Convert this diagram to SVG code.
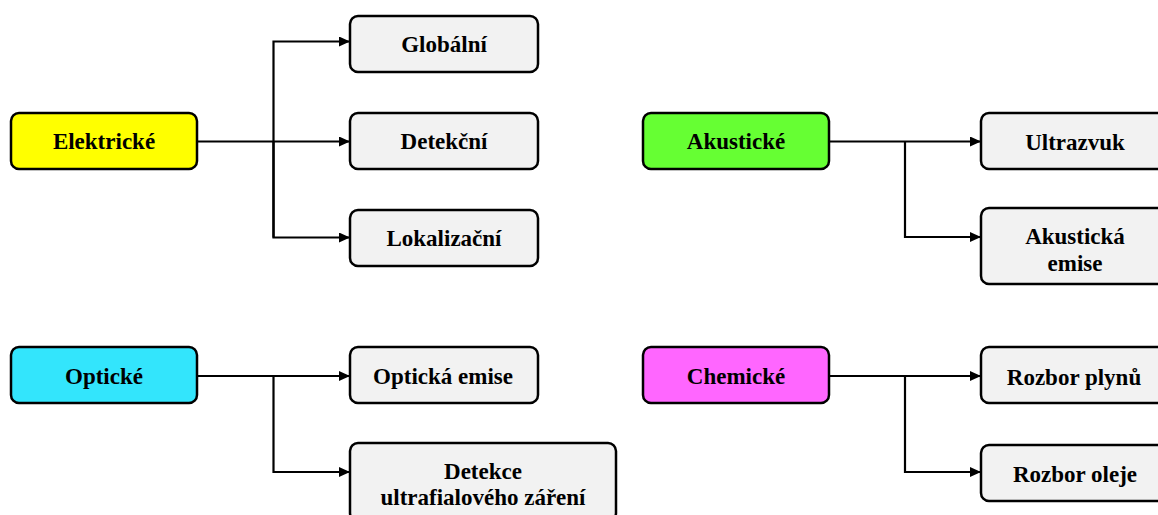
<svg xmlns="http://www.w3.org/2000/svg" width="1158" height="515" viewBox="0 0 1158 515">
  <defs>
    <marker id="arrow" viewBox="0 0 11 10" refX="11" refY="5" markerWidth="11" markerHeight="10" markerUnits="userSpaceOnUse" orient="auto">
      <path d="M0,0 L11,5 L0,10 Z" fill="#000"/>
    </marker>
    <style>
      .box { stroke: #000; stroke-width: 2.5; }
      .child { fill: #F2F2F2; }
      .lbl { font-weight: bold; font-size: 23px; fill: #000; text-anchor: middle; }
      .conn { fill: none; stroke: #000; stroke-width: 2.2; }
    </style>
  </defs>
  <rect width="1158" height="515" fill="#fff"/>

  <g id="connectors">
    <path class="conn" d="M197,141.5 L350,141.5" marker-end="url(#arrow)"/>
    <path class="conn" d="M273.5,237.5 L273.5,41.5 L350,41.5" marker-end="url(#arrow)"/>
    <path class="conn" d="M273.5,141.5 L273.5,237.5 L350,237.5" marker-end="url(#arrow)"/>

    <path class="conn" d="M829,141.5 L981,141.5" marker-end="url(#arrow)"/>
    <path class="conn" d="M905,141.5 L905,237 L981,237" marker-end="url(#arrow)"/>

    <path class="conn" d="M197,376 L350,376" marker-end="url(#arrow)"/>
    <path class="conn" d="M273.5,376 L273.5,472 L350,472" marker-end="url(#arrow)"/>

    <path class="conn" d="M829,376 L981,376" marker-end="url(#arrow)"/>
    <path class="conn" d="M905,376 L905,472 L981,472" marker-end="url(#arrow)"/>
  </g>

  <g font-family="'Liberation Serif', 'Times New Roman', Tinos, 'DejaVu Serif', serif">
  <g id="elektricke">
    <rect class="box" x="11" y="113" width="186" height="56" rx="8" fill="#FFFF00"/>
    <text class="lbl" x="104" y="149">Elektrické</text>
  </g>
  <g id="globalni">
    <rect class="box child" x="350" y="16" width="188" height="56" rx="8"/>
    <text class="lbl" x="444" y="52">Globální</text>
  </g>
  <g id="detekcni">
    <rect class="box child" x="350" y="113" width="188" height="56" rx="8"/>
    <text class="lbl" x="444" y="149">Detekční</text>
  </g>
  <g id="lokalizacni">
    <rect class="box child" x="350" y="210" width="188" height="56" rx="8"/>
    <text class="lbl" x="444" y="246">Lokalizační</text>
  </g>

  <g id="akusticke">
    <rect class="box" x="643" y="113" width="186" height="56" rx="8" fill="#66FF33"/>
    <text class="lbl" x="736" y="149">Akustické</text>
  </g>
  <g id="ultrazvuk">
    <rect class="box child" x="981" y="113" width="188" height="56" rx="8"/>
    <text class="lbl" x="1075" y="150">Ultrazvuk</text>
  </g>
  <g id="akusticka-emise">
    <rect class="box child" x="981" y="208" width="188" height="76" rx="8"/>
    <text class="lbl" x="1075" y="244">Akustická</text>
    <text class="lbl" x="1075" y="271">emise</text>
  </g>

  <g id="opticke">
    <rect class="box" x="11" y="347" width="186" height="56" rx="8" fill="#33E5FC"/>
    <text class="lbl" x="104" y="384">Optické</text>
  </g>
  <g id="opticka-emise">
    <rect class="box child" x="350" y="347" width="188" height="56" rx="8"/>
    <text class="lbl" x="443" y="384">Optická emise</text>
  </g>
  <g id="detekce-uv">
    <rect class="box child" x="350" y="443" width="266" height="78" rx="8"/>
    <text class="lbl" x="483" y="479">Detekce</text>
    <text class="lbl" x="483" y="505">ultrafialového záření</text>
  </g>

  <g id="chemicke">
    <rect class="box" x="643" y="347" width="186" height="56" rx="8" fill="#FF66FF"/>
    <text class="lbl" x="736" y="384">Chemické</text>
  </g>
  <g id="rozbor-plynu">
    <rect class="box child" x="981" y="347" width="188" height="56" rx="8"/>
    <text class="lbl" x="1074" y="385">Rozbor plynů</text>
  </g>
  <g id="rozbor-oleje">
    <rect class="box child" x="981" y="445" width="188" height="56" rx="8"/>
    <text class="lbl" x="1075" y="482">Rozbor oleje</text>
  </g>
  </g>
</svg>
